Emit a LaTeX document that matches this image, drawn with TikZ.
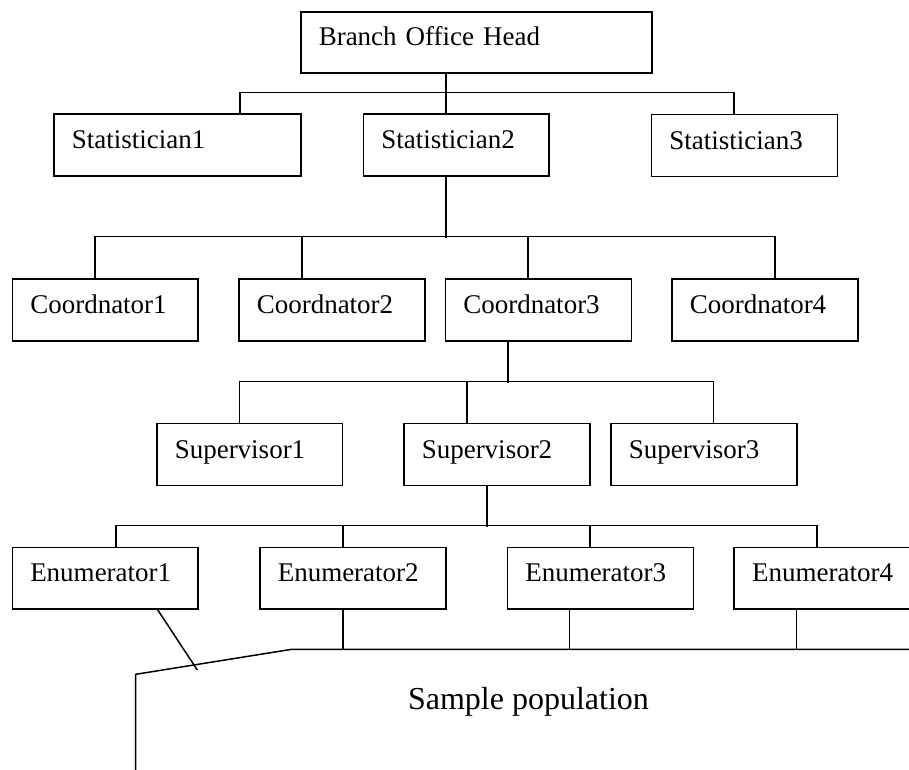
\documentclass[tikz,border=0pt]{standalone}
\usepackage{fontspec}
\setmainfont{Liberation Serif}
\begin{document}
\begin{tikzpicture}[x=1pt,y=-1pt, line width=1.5pt,
  box/.style={draw, line width=1.5pt, anchor=north west, inner xsep=18pt, inner ysep=0pt,
    align=left, text height=35pt, text depth=27pt,
    font=\fontsize{27pt}{30pt}\selectfont, text width=#1},
  conn/.style={line width=1.5pt}]
\useasboundingbox (0,0) rectangle (909,769);
\clip (0,0) rectangle (909,769);

% boxes
\node[box=315pt, text height=34pt] (head) at (300,11) {Branch Office Head};
\node[box=211pt] (stat1) at (53,113) {Statistician1};
\node[box=149.5pt] (stat2) at (362.5,113) {Statistician2};
\node[box=150pt] (stat3) at (650.5,113.5) {Statistician3};
\node[box=149.5pt] (coord1) at (11.5,278) {Coordnator1};
\node[box=150pt] (coord2) at (238,278) {Coordnator2};
\node[box=150pt] (coord3) at (444.5,278) {Coordnator3};
\node[box=150pt] (coord4) at (671,278) {Coordnator4};
\node[box=149.5pt] (sup1) at (156,422.5) {Supervisor1};
\node[box=150pt] (sup2) at (403,422.5) {Supervisor2};
\node[box=150pt] (sup3) at (610,422.5) {Supervisor3};
\node[box=149.5pt, text height=34.5pt] (enum1) at (11.5,546.5) {Enumerator1};
\node[box=150pt, text height=34.5pt] (enum2) at (259,546.5) {Enumerator2};
\node[box=150pt, text height=34.5pt] (enum3) at (506.5,546.5) {Enumerator3};
\node[box=150pt, text height=34.5pt] (enum4) at (733.3,546.5) {Enumerator4};

\node[anchor=base west, inner sep=0pt, font=\fontsize{32pt}{36pt}\selectfont] (sample) at (407.3,709.3) {Sample population};

% level 1
\draw[conn] ([xshift=62.5pt]stat1.north) -- ++(0,-20.3) -| ([xshift=-10.5pt]stat3.north);
\draw[conn] ([xshift=-30.5pt]head.south) -- ([xshift=-10.25pt]stat2.north);
% level 2
\draw[conn] ([xshift=-10.25pt]stat2.south) -- ++(0,61.7);
\draw[conn] ([xshift=-10.25pt]coord1.north) -- ++(0,-41.3) -| ([xshift=10pt]coord4.north);
\draw[conn] ([xshift=-30pt]coord2.north) -- ++(0,-41.3);
\draw[conn] ([xshift=-10.5pt]coord3.north) -- ++(0,-41.3);
% level 3
\draw[conn] ([xshift=-30.5pt]coord3.south) -- ++(0,41.7);
\draw[conn] ([xshift=-10.25pt]sup1.north) -- ++(0,-40.8) -| ([xshift=9.7pt]sup3.north);
\draw[conn] ([xshift=-30pt]sup2.north) -- ++(0,-40.8);
% level 4
\draw[conn] ([xshift=-10pt]sup2.south) -- ++(0,41.2);
\draw[conn] ([xshift=10.75pt]enum1.north) -- ++(0,-20.8) -| ([xshift=-10.3pt]enum4.north);
\draw[conn] ([xshift=-10pt]enum2.north) -- ++(0,-20.8);
\draw[conn] ([xshift=-10.5pt]enum3.north) -- ++(0,-20.8);
% sample population boundary
\coordinate (pD) at (915,649.3);
\coordinate (pA) at (291.7,649.3);
\coordinate (pB) at (135.7,674.3);
\coordinate (pC) at (135.7,775);
\draw[conn] (pD) -- (pA) -- (pB) -- (pC);
\draw[conn] ([xshift=-10pt]enum2.south) -- ++(0,40.8);
\draw[conn] ([xshift=-30.8pt]enum3.south) -- ++(0,40.8);
\draw[conn] ([xshift=-30.8pt]enum4.south) -- ++(0,40.8);
\coordinate (eTip) at (197.3,670);
\draw[conn] ([xshift=52.5pt]enum1.south) -- (eTip);
\end{tikzpicture}
\end{document}
